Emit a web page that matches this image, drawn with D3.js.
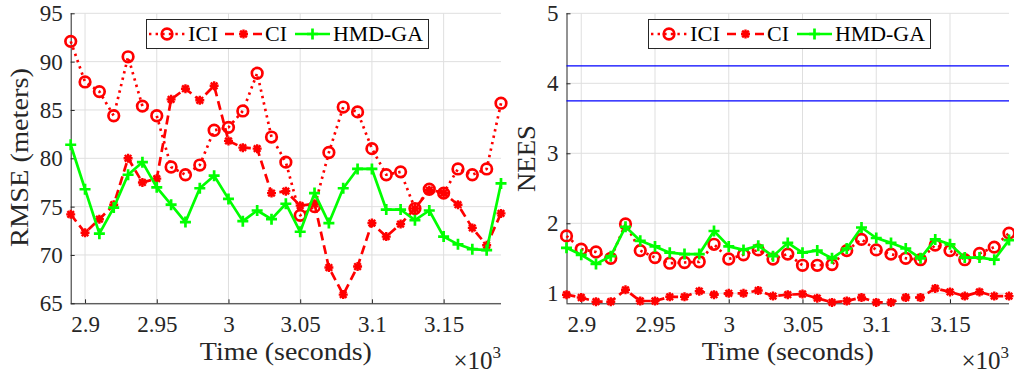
<!DOCTYPE html>
<html><head><meta charset="utf-8">
<script src="https://cdn.jsdelivr.net/npm/d3@7"></script>
<style>html,body{margin:0;padding:0;background:#fff;} svg{display:block;}</style>
</head><body>
<svg id="chart" width="1014" height="375"></svg>
<script>
const time = [2890,2900,2910,2920,2930,2940,2950,2960,2970,2980,2990,3000,3010,3020,3030,3040,3050,3060,3070,3080,3090,3100,3110,3120,3130,3140,3150,3160,3170,3180,3190];
const xTickValues = [2900,2950,3000,3050,3100,3150];
const xTickLabels = ["2.9","2.95","3","3.05","3.1","3.15"];
const rmseTicks = [65,70,75,80,85,90,95];
const neesTicks = [1,2,3,4,5];
const seriesNames = ["ICI","CI","HMD-GA"];

const rmseICI = [92.1,87.9,86.9,84.4,90.5,85.4,84.4,79.1,78.3,79.3,82.9,83.2,84.9,88.8,82.2,79.6,74.1,75.0,80.6,85.3,84.8,81.0,78.3,78.6,74.8,76.8,76.4,78.9,78.3,78.9,85.7];
const rmseCI  = [74.2,72.3,73.7,75.2,80.0,77.5,77.9,86.1,87.2,86.0,87.5,81.8,81.1,81.0,76.4,76.6,75.1,75.3,68.7,65.9,68.8,73.3,71.9,73.2,74.8,76.7,76.4,75.2,72.8,71.0,74.3];
const rmseHMD = [81.4,76.8,72.2,74.9,78.3,79.6,77.0,75.2,73.4,76.9,78.2,75.8,73.5,74.6,73.7,75.3,72.4,76.4,73.3,76.9,78.9,78.9,74.7,74.7,73.6,74.6,71.9,71.1,70.6,70.5,77.4];

const neesICI = [1.82,1.63,1.59,1.50,1.99,1.61,1.51,1.43,1.44,1.45,1.70,1.49,1.55,1.62,1.49,1.56,1.40,1.40,1.41,1.61,1.77,1.62,1.56,1.50,1.48,1.69,1.61,1.48,1.57,1.66,1.86];
const neesCI  = [0.98,0.94,0.88,0.88,1.05,0.89,0.89,0.95,0.95,1.03,0.98,1.00,1.00,1.04,0.96,0.98,0.99,0.93,0.87,0.89,0.94,0.87,0.87,0.94,0.94,1.07,1.02,0.96,1.02,0.96,0.96];
const neesHMD = [1.65,1.55,1.42,1.53,1.95,1.75,1.67,1.58,1.56,1.56,1.89,1.67,1.62,1.68,1.53,1.72,1.58,1.61,1.50,1.64,1.94,1.79,1.72,1.64,1.50,1.77,1.70,1.51,1.51,1.48,1.76];
const neesBounds = [3.75, 4.25];

const svg = d3.select("#chart");
const FONT = "'Liberation Serif', 'Times New Roman', serif";
const TXT = "#262626";
const RED = "#ff0000", GREEN = "#00ff00";

const styles = [
  {color: RED, dash: "2.4,4.2", marker: "circle"},
  {color: RED, dash: "9,5", marker: "asterisk"},
  {color: GREEN, dash: null, marker: "plus"}
];

function drawMarker(g, type, x, y, color) {
  if (type === "circle") {
    g.append("circle").attr("cx", x).attr("cy", y).attr("r", 5.3)
      .attr("fill", "none").attr("stroke", color).attr("stroke-width", 2.7);
  } else if (type === "plus") {
    const s = 5.5;
    g.append("path").attr("d", `M${x-s},${y}H${x+s}M${x},${y-s}V${y+s}`)
      .attr("stroke", color).attr("stroke-width", 2.7).attr("fill", "none");
  } else {
    const s = 4.5, d = 3.3;
    g.append("path").attr("d", `M${x-s},${y}H${x+s}M${x},${y-s}V${y+s}M${x-d},${y-d}L${x+d},${y+d}M${x-d},${y+d}L${x+d},${y-d}`)
      .attr("stroke", color).attr("stroke-width", 2.4).attr("fill", "none");
  }
}

function panel(cfg) {
  const x = d3.scaleLinear().domain([2890, 3190]).range([cfg.left, cfg.right]);
  const y = d3.scaleLinear().domain(cfg.yDomain).range([cfg.bottom, cfg.top]);
  const g = svg.append("g");

  const grid = g.append("g");
  xTickValues.forEach(v => grid.append("line").attr("x1", x(v)).attr("x2", x(v)).attr("y1", cfg.top).attr("y2", cfg.bottom)
    .attr("stroke", "#dfdfdf").attr("stroke-width", 1));
  cfg.yTicks.forEach(v => grid.append("line").attr("x1", cfg.left).attr("x2", cfg.right).attr("y1", y(v)).attr("y2", y(v))
    .attr("stroke", "#dfdfdf").attr("stroke-width", 1));

  const xAxis = d3.axisBottom(x).tickValues(xTickValues).tickFormat((d, i) => xTickLabels[i]).tickSizeInner(-4).tickSizeOuter(0).tickPadding(12);
  const gx = g.append("g").attr("transform", `translate(0,${cfg.bottom})`).call(xAxis);
  const yAxis = d3.axisLeft(y).tickValues(cfg.yTicks).tickFormat(d3.format("d")).tickSizeInner(-4).tickSizeOuter(0).tickPadding(8);
  const gy = g.append("g").attr("transform", `translate(${cfg.left},0)`).call(yAxis);
  [gx, gy].forEach(a => {
    a.select(".domain").attr("stroke", TXT).attr("stroke-width", 1);
    a.selectAll(".tick line").attr("stroke", TXT);
    a.selectAll(".tick text").attr("fill", TXT).style("font-family", FONT).style("font-size", "23px");
  });
  gy.select(".domain").attr("d", `M0.5,${cfg.top}V${cfg.bottom}`);
  gx.select(".domain").attr("d", `M${cfg.left},0.5H${cfg.right}`);

  if (cfg.bounds) {
    cfg.bounds.forEach(b => g.append("line").attr("x1", cfg.left).attr("x2", cfg.right).attr("y1", y(b)).attr("y2", y(b))
      .attr("stroke", "#0000ff").attr("stroke-width", 1.2));
  }

  const line = d3.line().x((d, i) => x(time[i])).y(d => y(d));
  cfg.series.forEach((vals, k) => {
    const st = styles[k];
    const sg = g.append("g");
    sg.append("path").datum(vals).attr("d", line).attr("fill", "none").attr("stroke", st.color)
      .attr("stroke-width", 2.7).attr("stroke-dasharray", st.dash).attr("stroke-linejoin", "round");
    vals.forEach((v, i) => drawMarker(sg, st.marker, x(time[i]), y(v), st.color));
  });

  const cx = (cfg.left + cfg.right) / 2;
  g.append("text").attr("x", cx).attr("y", 360).attr("text-anchor", "middle").attr("fill", TXT)
    .attr("textLength", 172).attr("lengthAdjust", "spacingAndGlyphs")
    .style("font-family", FONT).style("font-size", "26px").text("Time (seconds)");
  const exp = g.append("text").attr("x", cfg.right).attr("y", 369).attr("text-anchor", "end").attr("fill", TXT)
    .style("font-family", FONT).style("font-size", "25px");
  exp.append("tspan").text("×10");
  exp.append("tspan").attr("dy", -11).style("font-size", "17px").text("3");
  g.append("text").attr("transform", `translate(${cfg.ylabX},${cfg.ylabY}) rotate(-90)`)
    .attr("text-anchor", "middle").attr("fill", TXT)
    .attr("textLength", cfg.ylabLen).attr("lengthAdjust", "spacingAndGlyphs")
    .style("font-family", FONT).style("font-size", "26px").text(cfg.ylabel);

  const lx = cfg.legendX, ly = 19, lw = 282, lh = 29;
  const lg = g.append("g");
  lg.append("rect").attr("x", lx + 0.5).attr("y", ly + 0.5).attr("width", lw).attr("height", lh)
    .attr("fill", "#fff").attr("stroke", TXT).attr("stroke-width", 1);
  const items = [
    {x0: 3, x1: 39, tx: 42, tl: 30},
    {x0: 79, x1: 116, tx: 119, tl: 22},
    {x0: 149, x1: 184, tx: 187, tl: 90}
  ];
  items.forEach((it, k) => {
    const st = styles[k];
    const yy = ly + lh / 2 + 0.5;
    lg.append("line").attr("x1", lx + it.x0).attr("x2", lx + it.x1).attr("y1", yy).attr("y2", yy)
      .attr("stroke", st.color).attr("stroke-width", 2.7).attr("stroke-dasharray", st.dash);
    drawMarker(lg, st.marker, lx + (it.x0 + it.x1) / 2, yy, st.color);
    lg.append("text").attr("x", lx + it.tx).attr("y", ly + 22).attr("fill", "#000")
      .attr("textLength", it.tl).attr("lengthAdjust", "spacingAndGlyphs")
      .style("font-family", FONT).style("font-size", "22px").text(seriesNames[k]);
  });
}

panel({left: 70.7, right: 501, top: 13.3, bottom: 303.3, yDomain: [65, 95], yTicks: rmseTicks,
  series: [rmseICI, rmseCI, rmseHMD], ylabel: "RMSE (meters)", ylabX: 28, ylabY: 157.5, ylabLen: 179, legendX: 146});
panel({left: 566.5, right: 1009, top: 13.3, bottom: 303.3, yDomain: [0.857, 5], yTicks: neesTicks,
  series: [neesICI, neesCI, neesHMD], ylabel: "NEES", ylabX: 535, ylabY: 158.5, ylabLen: 67, legendX: 648, bounds: neesBounds});
</script>
</body></html>
